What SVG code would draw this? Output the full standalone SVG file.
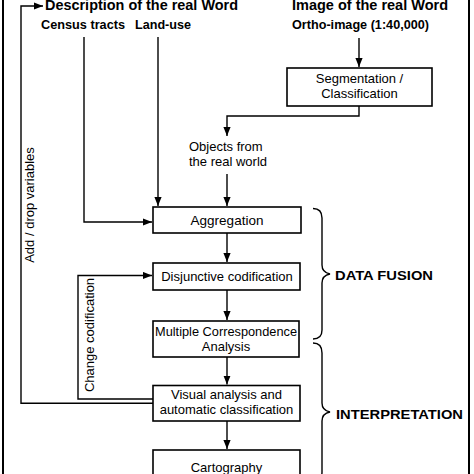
<svg xmlns="http://www.w3.org/2000/svg" width="474" height="474" viewBox="0 0 474 474">
<defs>
<marker id="ah" markerUnits="userSpaceOnUse" markerWidth="9" markerHeight="8" viewBox="0 0 10 8" refX="10" refY="4" orient="auto">
<path d="M0,0 L10,4 L0,8 z" fill="#000"/>
</marker>
</defs>
<style>
.box{fill:#fff;stroke:#000;stroke-width:1.6}
.ln{fill:none;stroke:#000;stroke-width:1.4}
.ar{fill:none;stroke:#000;stroke-width:1.4;marker-end:url(#ah)}
.br{fill:none;stroke:#000;stroke-width:1.4}
.t{font-family:"Liberation Sans",Arial,sans-serif;font-size:13px;fill:#000}
.c{text-anchor:middle}
.b{font-weight:bold}
</style>
<rect width="474" height="474" fill="#fff"/>
<rect x="3" y="-5" width="466" height="490" fill="none" stroke="#000" stroke-width="2"/>

<g id="titles">
<text class="t b" x="45" y="9.5" style="font-size:15.5px" textLength="193" lengthAdjust="spacingAndGlyphs">Description of the real Word</text>
<text class="t b" x="292" y="9.5" style="font-size:15.5px" textLength="156" lengthAdjust="spacingAndGlyphs">Image of the real Word</text>
<text class="t b" x="41" y="29" style="font-size:12.5px" textLength="84" lengthAdjust="spacingAndGlyphs">Census tracts</text>
<text class="t b" x="135" y="29" style="font-size:12.5px" textLength="56" lengthAdjust="spacingAndGlyphs">Land-use</text>
<text class="t b" x="292" y="29" style="font-size:12.5px" textLength="137" lengthAdjust="spacingAndGlyphs">Ortho-image (1:40,000)</text>
</g>

<g id="connectors">
<path class="ar" d="M84,37 V222 H152"/>
<path class="ar" d="M158,37 V206"/>
<path class="ar" d="M359,38 V67"/>
<path class="ar" d="M359,106 V116 H227 V136"/>
<path class="ar" d="M227,174 V206"/>
<path class="ar" d="M227,233 V262"/>
<path class="ar" d="M227,290 V320"/>
<path class="ar" d="M227,357 V384.5"/>
<path class="ar" d="M227,421 V449"/>
<path class="ar" d="M153,399 H78 V275.5 H152"/>
<path class="ar" d="M153,403.3 H21 V6 H43"/>
</g>

<g id="segmentation">
<rect class="box" x="287" y="68" width="145" height="38"/>
<text class="t c" x="359.5" y="83">Segmentation /</text>
<text class="t c" x="359.5" y="98">Classification</text>
</g>

<g id="objects">
<text class="t" x="189" y="151">Objects from</text>
<text class="t" x="189" y="166">the real world</text>
</g>

<g id="aggregation">
<rect class="box" x="153" y="207" width="148" height="26"/>
<text class="t c" x="227" y="225" style="font-size:13.5px">Aggregation</text>
</g>

<g id="disjunctive">
<rect class="box" x="153" y="263" width="147" height="27"/>
<text class="t c" x="227" y="281">Disjunctive codification</text>
</g>

<g id="mca">
<rect class="box" x="153" y="321" width="146" height="36"/>
<text class="t c" x="226" y="336" textLength="142" lengthAdjust="spacingAndGlyphs">Multiple Correspondence</text>
<text class="t c" x="226" y="351">Analysis</text>
</g>

<g id="visual">
<rect class="box" x="153" y="385.5" width="147" height="35.5"/>
<text class="t c" x="226.5" y="398.5">Visual analysis and</text>
<text class="t c" x="226.5" y="414">automatic classification</text>
</g>

<g id="cartography">
<rect class="box" x="153" y="450" width="147" height="40"/>
<text class="t c" x="226.5" y="472">Cartography</text>
</g>

<g id="loop-labels">
<text class="t c" transform="translate(33.5,205) rotate(-90)">Add / drop variables</text>
<text class="t c" transform="translate(94,335) rotate(-90)">Change codification</text>
</g>

<g id="data-fusion">
<path class="br" d="M313,208.5 C319,208.5 322,211 322,218 V265 C322,270 325,273 330,274 C325,275 322,278 322,283 V330 C322,336 319,339 313,339"/>
<text class="t b" x="335" y="279.5" style="font-size:13.5px" textLength="98" lengthAdjust="spacingAndGlyphs">DATA FUSION</text>
</g>

<g id="interpretation">
<path class="br" d="M313,343 C319,343 322,346 322,353 V403 C322,408 325,411 330,412 C325,413 322,416 322,421 V472 C322,478 319,481 313,481"/>
<text class="t b" x="336" y="418.5" style="font-size:13.5px" textLength="127" lengthAdjust="spacingAndGlyphs">INTERPRETATION</text>
</g>
</svg>
